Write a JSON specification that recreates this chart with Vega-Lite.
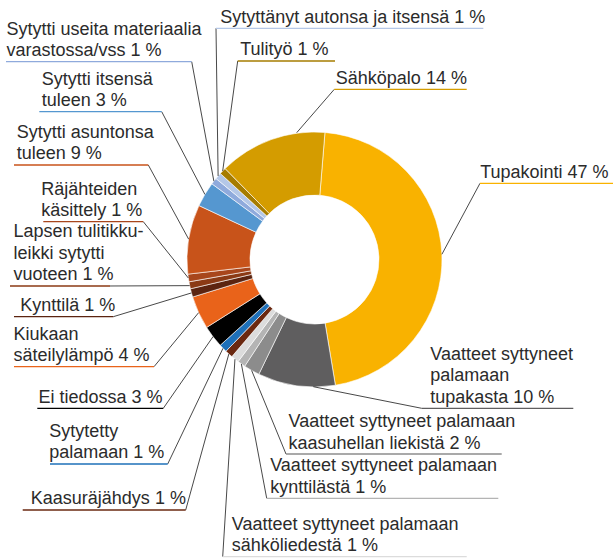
{
  "$schema": "https://vega.github.io/schema/vega-lite/v6.json",
  "autosize": {"type": "none"},
  "width": 597,
  "height": 519,
  "padding": {"left": 16, "top": 0, "right": 0, "bottom": 39},
  "background": "white",
  "config": {"view": {"stroke": null}},
  "datasets": {
    "slices": [
      {"n": 1, "cat": "Tupakointi", "share": 46.08},
      {"n": 2, "cat": "Vaatteet syttyneet palamaan tupakasta", "share": 9.81},
      {"n": 3, "cat": "Vaatteet syttyneet palamaan kaasuhellan liekistä", "share": 2.03},
      {"n": 4, "cat": "Vaatteet syttyneet palamaan kynttilästä", "share": 1.0},
      {"n": 5, "cat": "Vaatteet syttyneet palamaan sähköliedestä", "share": 1.0},
      {"n": 6, "cat": "Kaasuräjähdys", "share": 1.0},
      {"n": 7, "cat": "Sytytetty palamaan", "share": 1.03},
      {"n": 8, "cat": "Ei tiedossa", "share": 2.81},
      {"n": 9, "cat": "Kiukaan säteilylämpö", "share": 4.19},
      {"n": 10, "cat": "Kynttilä", "share": 1.06},
      {"n": 11, "cat": "Lapsen tulitikkuleikki sytytti vuoteen", "share": 0.89},
      {"n": 12, "cat": "Räjähteiden käsittely", "share": 0.97},
      {"n": 13, "cat": "Sytytti asuntonsa tuleen", "share": 8.78},
      {"n": 14, "cat": "Sytytti itsensä tuleen", "share": 3.17},
      {"n": 15, "cat": "Sytytti useita materiaalia varastossa/vss", "share": 0.83},
      {"n": 16, "cat": "Sytyttänyt autonsa ja itsensä", "share": 0.83},
      {"n": 17, "cat": "Tulityö", "share": 0.86},
      {"n": 18, "cat": "Sähköpalo", "share": 13.67}
    ],
    "callouts": [
      {"cat": "Sytytti useita materiaalia varastossa/vss", "label": "Sytytti useita materiaalia\nvarastossa/vss 1 %", "lx": -241.57, "ly": 155.14, "x1": -241.96, "x2": -96.31, "ax": -96.31, "px": -78.91, "py": 61.43},
      {"cat": "Sytytti itsensä tuleen", "label": "Sytytti itsensä\ntuleen 3 %", "lx": -213.88, "ly": 115.92, "x1": -215.84, "x2": -119.84, "ax": -119.84, "px": -85.97, "py": 51.06},
      {"cat": "Sytytti asuntonsa tuleen", "label": "Sytytti asuntonsa\ntuleen 9 %", "lx": -233.49, "ly": 74.12, "x1": -235.69, "x2": -130.35, "ax": -130.35, "px": -98.71, "py": 15.99},
      {"cat": "Räjähteiden käsittely", "label": "Räjähteiden\nkäsittely 1 %", "lx": -214.35, "ly": 29.65, "x1": -212.71, "x2": -134.27, "ax": -134.27, "px": -98.94, "py": -14.52},
      {"cat": "Lapsen tulitikkuleikki sytytti vuoteen", "label": "Lapsen tulitikku-\nleikki sytytti\nvuoteen 1 %", "lx": -236.08, "ly": -20.78, "x1": -238.82, "x2": -160.39, "ax": -160.39, "px": -97.92, "py": -20.5},
      {"cat": "Kynttilä", "label": "Kynttilä 1 %", "lx": -230.82, "ly": -44.86, "x1": -235.69, "x2": -157.8, "ax": -157.8, "px": -96.5, "py": -26.22},
      {"cat": "Kiukaan säteilylämpö", "label": "Kiukaan\nsäteilylämpö 4 %", "lx": -236.08, "ly": -84.08, "x1": -235.69, "x2": -125.88, "ax": -125.88, "px": -90.89, "py": -41.71},
      {"cat": "Ei tiedossa", "label": "Ei tiedossa 3 %", "lx": -216.47, "ly": -116.71, "x1": -217.41, "x2": -118.59, "ax": -118.59, "px": -79.6, "py": -60.53},
      {"cat": "Sytytetty palamaan", "label": "Sytytetty\npalamaan 1 %", "lx": -208.08, "ly": -160.39, "x1": -207.45, "x2": -115.14, "ax": -115.14, "px": -71.76, "py": -69.64},
      {"cat": "Kaasuräjähdys", "label": "Kaasuräjähdys 1 %", "lx": -222.51, "ly": -196.47, "x1": -228.86, "x2": -101.02, "ax": -101.02, "px": -67.17, "py": -74.08},
      {"cat": "Sytyttänyt autonsa ja itsensä", "label": "Sytyttänyt autonsa ja itsensä 1 %", "lx": -73.96, "ly": 181.33, "x1": -77.25, "x2": 132.39, "ax": -77.25, "px": -75.59, "py": 65.47},
      {"cat": "Tulityö", "label": "Tulityö 1 %", "lx": -58.27, "ly": 155.69, "x1": -60.24, "x2": 16.08, "ax": -60.24, "px": -72.0, "py": 69.4},
      {"cat": "Sähköpalo", "label": "Sähköpalo 14 %", "lx": 16.71, "ly": 133.49, "x1": 15.53, "x2": 119.37, "ax": 15.53, "px": -13.96, "py": 99.45},
      {"cat": "Tupakointi", "label": "Tupakointi 47 %", "lx": 129.96, "ly": 59.76, "x1": 129.8, "x2": 234.12, "ax": 129.8, "px": 99.92, "py": 4.1},
      {"cat": "Vaatteet syttyneet palamaan tupakasta", "label": "Vaatteet syttyneet\npalamaan\ntupakasta 10 %", "lx": 90.75, "ly": -116.71, "x1": 84.08, "x2": 202.98, "ax": 84.08, "px": -0.94, "py": -99.76},
      {"cat": "Vaatteet syttyneet palamaan kaasuhellan liekistä", "label": "Vaatteet syttyneet palamaan\nkaasuhellan liekistä 2 %", "lx": -20.39, "ly": -152.55, "x1": -22.35, "x2": 146.82, "ax": -22.35, "px": -49.32, "py": -86.99},
      {"cat": "Vaatteet syttyneet palamaan kynttilästä", "label": "Vaatteet syttyneet palamaan\nkynttilästä 1 %", "lx": -34.75, "ly": -187.29, "x1": -37.49, "x2": 144.16, "ax": -37.49, "px": -57.36, "py": -81.92},
      {"cat": "Vaatteet syttyneet palamaan sähköliedestä", "label": "Vaatteet syttyneet palamaan\nsähköliedestä 1 %", "lx": -64.86, "ly": -233.1, "x1": -72.0, "x2": 119.37, "ax": -72.0, "px": -62.39, "py": -78.15}
    ]
  },
  "layer": [
    {
      "data": {"name": "slices"},
      "mark": {"type": "arc", "outerRadius": 127.5, "innerRadius": 64.5, "stroke": "white", "strokeWidth": 0.6},
      "encoding": {
        "theta": {"field": "share", "type": "quantitative", "stack": true, "scale": {"range": [0.08203, 6.36522]}},
        "order": {"field": "n", "type": "quantitative", "sort": "ascending"},
        "color": {
          "field": "cat", "type": "nominal", "legend": null,
          "scale": {
            "domain": ["Tupakointi", "Vaatteet syttyneet palamaan tupakasta", "Vaatteet syttyneet palamaan kaasuhellan liekistä", "Vaatteet syttyneet palamaan kynttilästä", "Vaatteet syttyneet palamaan sähköliedestä", "Kaasuräjähdys", "Sytytetty palamaan", "Ei tiedossa", "Kiukaan säteilylämpö", "Kynttilä", "Lapsen tulitikkuleikki sytytti vuoteen", "Räjähteiden käsittely", "Sytytti asuntonsa tuleen", "Sytytti itsensä tuleen", "Sytytti useita materiaalia varastossa/vss", "Sytyttänyt autonsa ja itsensä", "Tulityö", "Sähköpalo"],
            "range": ["#F9B200", "#5F5E5F", "#8C8C8C", "#B4B4B4", "#DCDCDC", "#6A2810", "#1E70B9", "#000000", "#E9631A", "#5C2410", "#8B3A15", "#A8461C", "#C8531A", "#5597D0", "#8FAADC", "#B4C7E7", "#A67C00", "#D49C00"]
          }
        }
      }
    },
    {
      "data": {"name": "callouts"},
      "mark": {"type": "rule", "color": "#333333", "strokeWidth": 0.9},
      "encoding": {
        "x": {"field": "px", "type": "quantitative", "axis": null, "scale": {"domain": [-234.118, 234.118], "nice": false, "zero": false}},
        "y": {"field": "py", "type": "quantitative", "axis": null, "scale": {"domain": [-203.529, 203.529], "nice": false, "zero": false}},
        "x2": {"field": "ax"},
        "y2": {"field": "ly"}
      }
    },
    {
      "data": {"name": "callouts"},
      "mark": {"type": "rule", "strokeWidth": 1.3},
      "encoding": {
        "x": {"field": "x1", "type": "quantitative"},
        "x2": {"field": "x2"},
        "y": {"field": "ly", "type": "quantitative"},
        "color": {"field": "cat", "type": "nominal", "legend": null}
      }
    },
    {
      "data": {"name": "callouts"},
      "transform": [{"filter": "length(split(datum.label, '\\n')) == 1"}],
      "mark": {"type": "text", "align": "left", "baseline": "bottom", "dy": -1.5, "lineBreak": "\n", "lineHeight": 21.5, "font": "Liberation Sans", "fontSize": 18, "color": "#2b2b2b"},
      "encoding": {
        "x": {"field": "lx", "type": "quantitative"},
        "y": {"field": "ly", "type": "quantitative"},
        "text": {"field": "label"}
      }
    },
    {
      "data": {"name": "callouts"},
      "transform": [{"filter": "length(split(datum.label, '\\n')) == 2"}],
      "mark": {"type": "text", "align": "left", "baseline": "bottom", "dy": -23, "lineBreak": "\n", "lineHeight": 21.5, "font": "Liberation Sans", "fontSize": 18, "color": "#2b2b2b"},
      "encoding": {
        "x": {"field": "lx", "type": "quantitative"},
        "y": {"field": "ly", "type": "quantitative"},
        "text": {"field": "label"}
      }
    },
    {
      "data": {"name": "callouts"},
      "transform": [{"filter": "length(split(datum.label, '\\n')) == 3"}],
      "mark": {"type": "text", "align": "left", "baseline": "bottom", "dy": -44.5, "lineBreak": "\n", "lineHeight": 21.5, "font": "Liberation Sans", "fontSize": 18, "color": "#2b2b2b"},
      "encoding": {
        "x": {"field": "lx", "type": "quantitative"},
        "y": {"field": "ly", "type": "quantitative"},
        "text": {"field": "label"}
      }
    }
  ]
}
